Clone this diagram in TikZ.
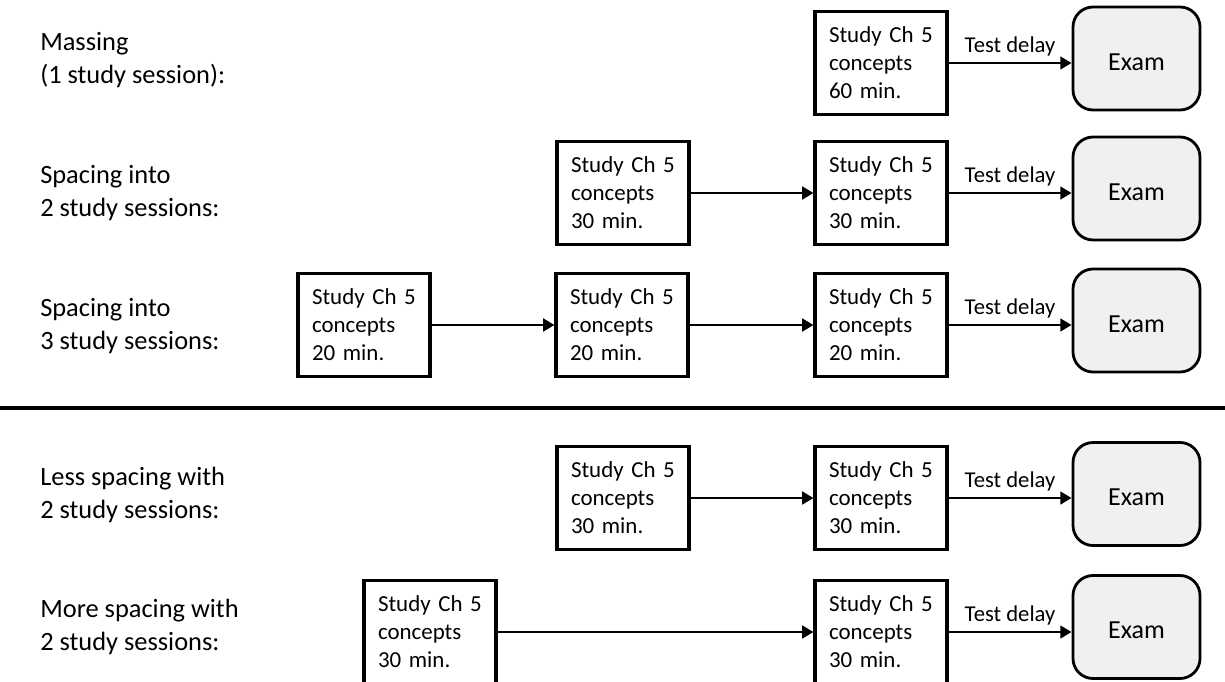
\documentclass[tikz,border=0pt]{standalone}
\usepackage{fontspec}
\setmainfont{Carlito}
\usetikzlibrary{arrows.meta}
\begin{document}
\begin{tikzpicture}[x=0.75pt,y=-0.75pt,
  study/.style={draw, line width=2.3pt, minimum width=99pt, minimum height=77.25pt,
    inner sep=0pt, align=left, text width=78pt, font=\fontsize{17.2}{21}\selectfont},
  exam/.style={draw, line width=2.1pt, rounded corners=15pt, fill=gray!12,
    minimum width=95.25pt, minimum height=77.25pt, inner sep=0pt,
    text height=17.8pt, text depth=0pt, font=\fontsize{19.5}{23}\selectfont},
  lbl/.style={anchor=base west, align=left, inner sep=0pt, font=\fontsize{19.8}{24.4}\selectfont},
  arr/.style={line width=2pt, -{Triangle[length=8.5pt,width=9.5pt]}},
  dl/.style={midway, anchor=base, yshift=8.25pt, inner sep=0pt, font=\fontsize{17}{20}\selectfont}]
\useasboundingbox (0,0) rectangle (1225,682);

% row labels (anchored at the baseline of their last line)
\node[lbl] (l1) at (40,83) {Massing\\(1 study session):};
\node[lbl] (l2) at (40,216) {Spacing into\\2 study sessions:};
\node[lbl] (l3) at (40,349) {Spacing into\\3 study sessions:};
\node[lbl] (l4) at (40,518) {Less spacing with\\2 study sessions:};
\node[lbl] (l5) at (40,650) {More spacing with\\2 study sessions:};

% row 1
\node[study] (a1) at (881,63) {Study Ch 5\\concepts\\60 min.};
\node[exam] (e1) at (1136.5,58.5) {Exam};
\draw[arr] (a1.east) -- node[dl] {Test delay} (a1.east -| e1.west);

% row 2
\node[study] (b2) at (623,193) {Study Ch 5\\concepts\\30 min.};
\node[study] (a2) at (881,193) {Study Ch 5\\concepts\\30 min.};
\node[exam] (e2) at (1136.5,188.5) {Exam};
\draw[arr] (b2.east) -- (a2.west);
\draw[arr] (a2.east) -- node[dl] {Test delay} (a2.east -| e2.west);

% row 3
\node[study] (c3) at (364,325) {Study Ch 5\\concepts\\20 min.};
\node[study] (b3) at (622,325) {Study Ch 5\\concepts\\20 min.};
\node[study] (a3) at (881,325) {Study Ch 5\\concepts\\20 min.};
\node[exam] (e3) at (1136.5,320.5) {Exam};
\draw[arr] (c3.east) -- (b3.west);
\draw[arr] (b3.east) -- (a3.west);
\draw[arr] (a3.east) -- node[dl] {Test delay} (a3.east -| e3.west);

% separator
\coordinate (sepL) at (0,408);
\coordinate (sepR) at (1225,408);
\draw[line width=3.4pt] (sepL) -- (sepR);

% row 4
\node[study] (b4) at (623,498) {Study Ch 5\\concepts\\30 min.};
\node[study] (a4) at (881,498) {Study Ch 5\\concepts\\30 min.};
\node[exam] (e4) at (1136.5,494) {Exam};
\draw[arr] (b4.east) -- (a4.west);
\draw[arr] (a4.east) -- node[dl] {Test delay} (a4.east -| e4.west);

% row 5
\node[study] (d5) at (430,632) {Study Ch 5\\concepts\\30 min.};
\node[study] (a5) at (881,632) {Study Ch 5\\concepts\\30 min.};
\node[exam] (e5) at (1136.5,627) {Exam};
\draw[arr] (d5.east) -- (a5.west);
\draw[arr] (a5.east) -- node[dl] {Test delay} (a5.east -| e5.west);
\end{tikzpicture}
\end{document}
